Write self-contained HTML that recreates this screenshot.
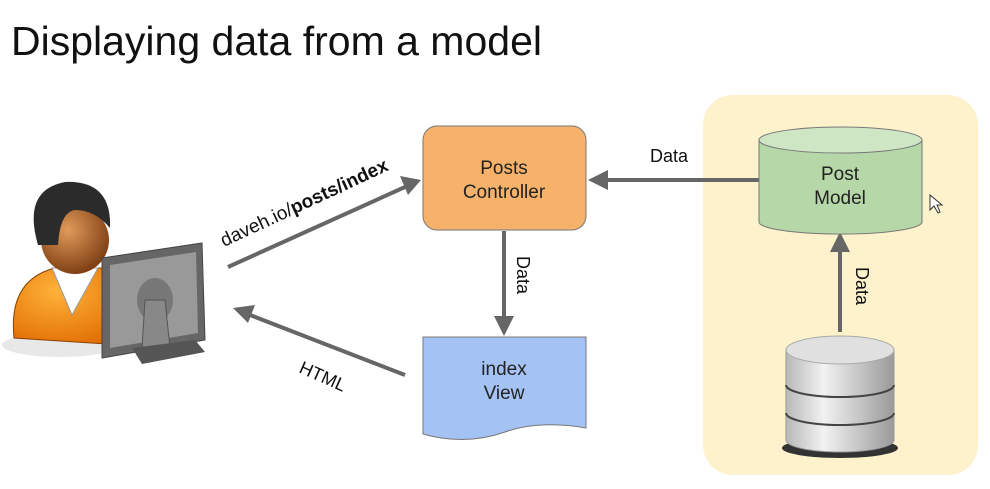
<!DOCTYPE html>
<html><head><meta charset="utf-8"><style>
html,body{margin:0;padding:0;background:#fff;width:990px;height:489px;overflow:hidden}
svg{display:block}
text{font-family:"Liberation Sans",Arial,sans-serif}
</style></head><body>
<svg width="990" height="489" viewBox="0 0 990 489" xmlns="http://www.w3.org/2000/svg">
<defs>
<linearGradient id="dbg" x1="0" x2="1"><stop offset="0" stop-color="#b8b8b8"/><stop offset="0.35" stop-color="#f2f2f2"/><stop offset="1" stop-color="#9a9a9a"/></linearGradient>
<radialGradient id="face" cx="0.4" cy="0.35" r="0.7"><stop offset="0" stop-color="#e09a5a"/><stop offset="1" stop-color="#7a3a10"/></radialGradient>
<radialGradient id="shirt" cx="0.4" cy="0.3" r="0.8"><stop offset="0" stop-color="#ffb23a"/><stop offset="1" stop-color="#e06a00"/></radialGradient>
</defs>
<text x="11" y="55" font-size="41" fill="#111">Displaying data from a model</text>

<rect x="703" y="95" width="275" height="380" rx="30" fill="#fdf2cc"/>

<!-- person -->
<ellipse cx="60" cy="345" rx="58" ry="12" fill="#e8e8e8"/>
<path d="M14 338 Q8 280 55 268 L112 268 Q130 285 122 345 Z" fill="url(#shirt)" stroke="#8a4000"/>
<path d="M52 268 L72 315 L98 268 Z" fill="#fff" stroke="#999"/>
<circle cx="75" cy="240" r="34" fill="url(#face)"/>
<path d="M38 245 Q22 190 65 182 Q112 180 110 228 Q95 210 75 210 Q60 212 58 245 Z" fill="#2b2b2b"/>
<!-- monitor -->
<path d="M102 258 L202 243 L205 340 L102 358 Z" fill="#666" stroke="#444"/>
<path d="M110 265 L196 252 L198 333 L110 348 Z" fill="#999"/>
<ellipse cx="155" cy="300" rx="18" ry="22" fill="#777"/>
<path d="M145 300 L165 300 L170 348 L142 348 Z" fill="#888" stroke="#555"/>
<path d="M132 348 L195 340 L205 352 L142 364 Z" fill="#555"/>

<!-- arrows -->
<g stroke="#666" stroke-width="4" fill="#666">
<line x1="228" y1="267" x2="405" y2="187"/>
<polygon points="421,180 400,176 408,195" stroke="none"/>
<line x1="405" y1="375" x2="250" y2="315"/>
<polygon points="233,308 255,305 248,323" stroke="none"/>
<line x1="504" y1="231" x2="504" y2="318"/>
<polygon points="504,336 494,316 514,316" stroke="none"/>
<line x1="759" y1="180" x2="605" y2="180"/>
<polygon points="588,180 608,170 608,190" stroke="none"/>
<line x1="840" y1="332" x2="840" y2="250"/>
<polygon points="840,232 830,252 850,252" stroke="none"/>
</g>

<text x="0" y="0" font-size="19" fill="#111" transform="translate(224,247) rotate(-25)">daveh.io/<tspan font-weight="bold">posts/index</tspan></text>
<text x="0" y="0" font-size="18" fill="#111" transform="translate(298,372) rotate(24)">HTML</text>
<text x="650" y="162" font-size="18" fill="#111">Data</text>
<text x="0" y="0" font-size="18" fill="#111" transform="translate(517,256) rotate(90)">Data</text>
<text x="0" y="0" font-size="18" fill="#111" transform="translate(856,267) rotate(90)">Data</text>

<!-- controller -->
<rect x="423" y="126" width="163" height="104" rx="14" fill="#f6b26b" stroke="#777"/>
<text x="504" y="174" font-size="19" text-anchor="middle" fill="#222">Posts</text>
<text x="504" y="198" font-size="19" text-anchor="middle" fill="#222">Controller</text>

<!-- view -->
<path d="M423 337 L586 337 L586 428 Q540 420 505 432 Q465 446 423 434 Z" fill="#a4c2f4" stroke="#777"/>
<text x="504" y="375" font-size="19" text-anchor="middle" fill="#222">index</text>
<text x="504" y="399" font-size="19" text-anchor="middle" fill="#222">View</text>

<!-- model -->
<path d="M759 140 L759 222 A81 12 0 0 0 922 222 L922 140 Z" fill="#b6d7a8" stroke="#777"/>
<ellipse cx="840.5" cy="140" rx="81.5" ry="13" fill="#cfe6c5" stroke="#777"/>
<text x="840" y="180" font-size="19" text-anchor="middle" fill="#222">Post</text>
<text x="840" y="204" font-size="19" text-anchor="middle" fill="#222">Model</text>
<path d="M930 195 L930 210 L934 206 L938 213 L940 212 L937 205 L942 205 Z" fill="#fff" stroke="#333" stroke-width="1"/>

<!-- db -->
<ellipse cx="840" cy="448" rx="58" ry="10" fill="#333"/>
<path d="M786 350 L786 440 A54 12 0 0 0 894 440 L894 350 Z" fill="url(#dbg)" stroke="#999"/>
<path d="M786 385 A54 12 0 0 0 894 385" fill="none" stroke="#444" stroke-width="2"/>
<path d="M786 413 A54 12 0 0 0 894 413" fill="none" stroke="#444" stroke-width="2"/>
<ellipse cx="840" cy="350" rx="54" ry="14" fill="#e0e0e0" stroke="#aaa"/>
</svg>
</body></html>
